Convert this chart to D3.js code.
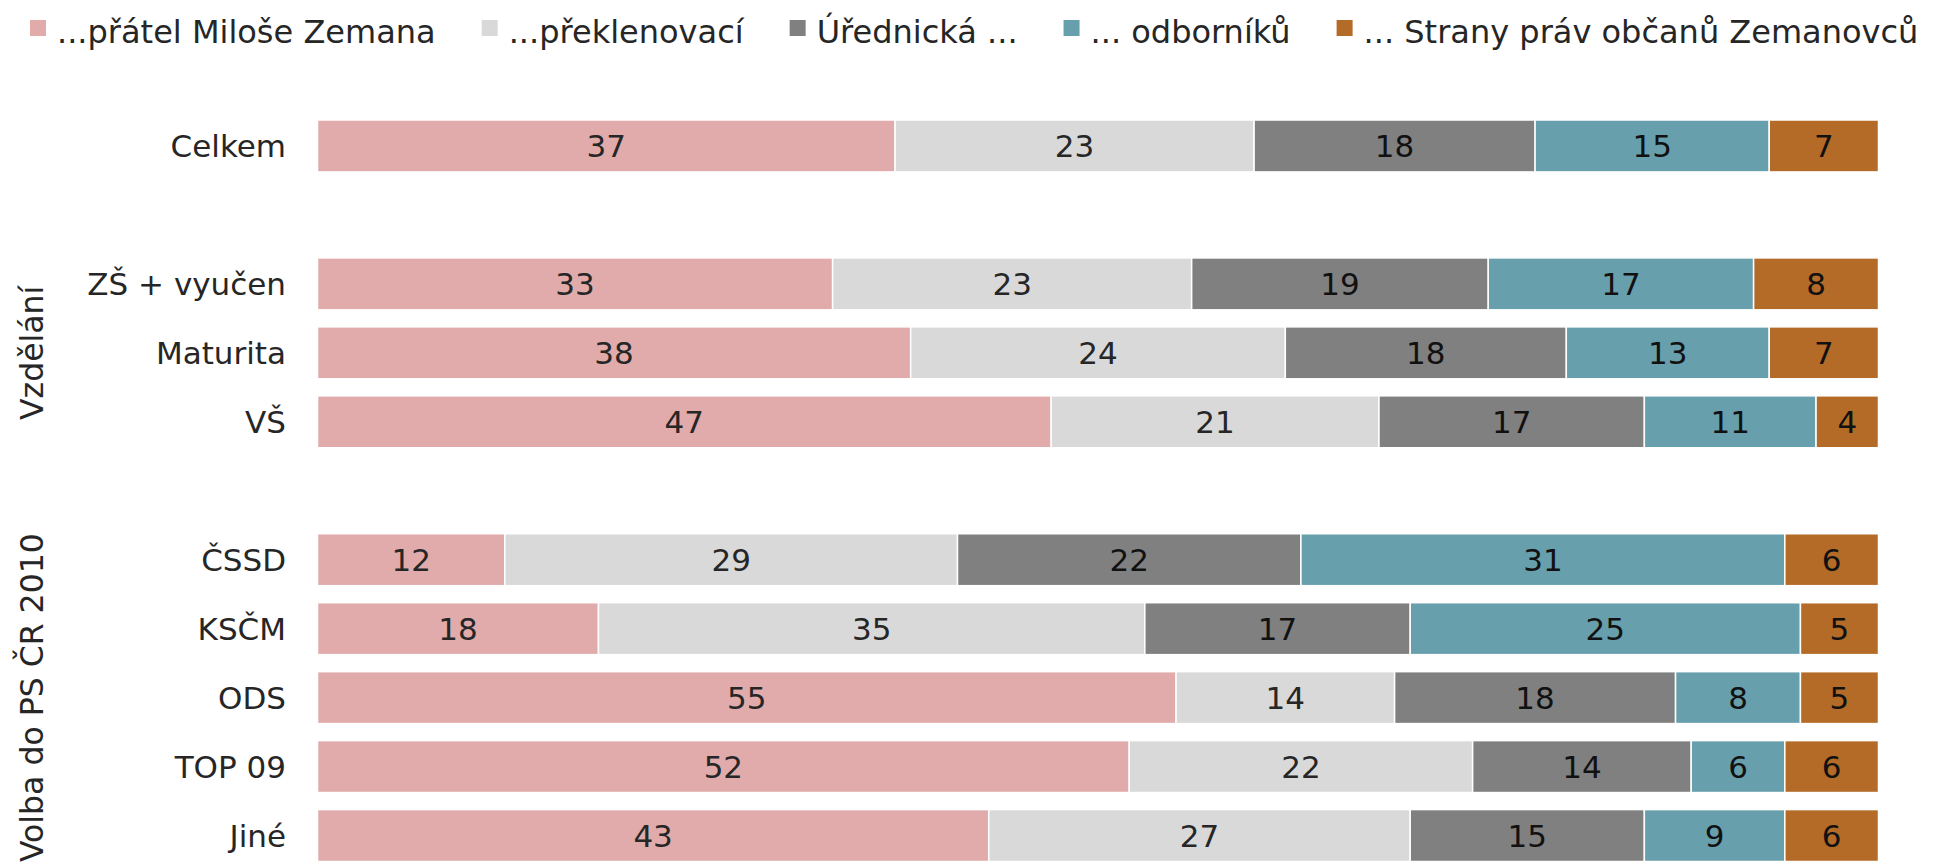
<!DOCTYPE html>
<html>
<head>
<meta charset="utf-8">
<script src="https://cdn.jsdelivr.net/npm/d3@7"></script>
<style>
  body { margin: 0; background: #fff; }
  text { font-family: "DejaVu Sans", Verdana, sans-serif; }
</style>
</head>
<body>
<svg width="1937" height="867"></svg>
<script>
      // series (answer options) and their colours
      const series = ["...přátel Miloše Zemana", "...překlenovací", "Úřednická ...", "... odborníků", "... Strany práv občanů Zemanovců"];
      const colors = ["#e1abab", "#d9d9d9", "#808080", "#689fad", "#b46b27"];
      const labelColors = ["#262626", "#262626", "#111", "#111", "#111"];

      // rows, blank slots separate the groups
      const rows = ["Celkem", "_gap1", "ZŠ + vyučen", "Maturita", "VŠ", "_gap2", "ČSSD", "KSČM", "ODS", "TOP 09", "Jiné"];

      // values in percent, one array per series, in order of rows (without gaps)
      const categories = ["Celkem", "ZŠ + vyučen", "Maturita", "VŠ", "ČSSD", "KSČM", "ODS", "TOP 09", "Jiné"];
      const pratel     = [37, 33, 38, 47, 12, 18, 55, 52, 43];
      const preklen    = [23, 23, 24, 21, 29, 35, 14, 22, 27];
      const urednicka  = [18, 19, 18, 17, 22, 17, 18, 14, 15];
      const odborniku  = [15, 17, 13, 11, 31, 25,  8,  6,  9];
      const sporz      = [ 7,  8,  7,  4,  6,  5,  5,  6,  6];

      // groups drawn as rotated titles
      const groups = [
        {name: "Vzdělání", first: "ZŠ + vyučen", last: "VŠ"},
        {name: "Volba do PS ČR 2010", first: "ČSSD", last: "Jiné"}
      ];

      const svg = d3.select("svg");

      // build a table for the stack
      const table = categories.map((c, i) => {
        const row = {cat: c};
        [pratel, preklen, urednicka, odborniku, sporz].forEach((arr, j) => row[series[j]] = arr[i]);
        return row;
      });

      const stack = d3.stack().keys(series)(table);

      const x = d3.scaleLinear()
          .domain([0, 100])
          .range([317.5, 1878.5]);

      const y = d3.scaleBand()
          .domain(rows)
          .range([120, 861.5])
          .paddingInner(0.247)
          .paddingOuter(0);

      // bars
      const layer = svg.append("g")
          .selectAll("g")
          .data(stack)
          .enter()
          .append("g")
          .attr("fill", (d, i) => colors[i]);

      layer.selectAll("rect")
          .data(d => d.map(s => ({s: s, key: d.key})))
          .enter()
          .append("rect")
          .attr("x", d => x(d.s[0]))
          .attr("width", d => x(d.s[1]) - x(d.s[0]))
          .attr("y", d => y(d.s.data.cat))
          .attr("height", y.bandwidth())
          .style("stroke", "#fff")
          .style("stroke-width", 1.5);

      // value labels in the middle of each segment
      layer.selectAll("text")
          .data((d, i) => d.map(s => ({s: s, i: i})))
          .enter()
          .append("text")
          .attr("x", d => (x(d.s[0]) + x(d.s[1])) / 2)
          .attr("y", d => y(d.s.data.cat) + y.bandwidth() / 2)
          .attr("dy", "0.36em")
          .attr("text-anchor", "middle")
          .style("font-size", "31px")
          .style("fill", d => labelColors[d.i])
          .text(d => d.s[1] - d.s[0]);

      // category labels
      svg.append("g")
          .selectAll("text")
          .data(categories)
          .enter()
          .append("text")
          .attr("x", 286)
          .attr("y", d => y(d) + y.bandwidth() / 2)
          .attr("dy", "0.36em")
          .attr("text-anchor", "end")
          .style("font-size", "31px")
          .style("fill", "#262626")
          .text(d => d);

      // rotated group titles
      svg.append("g")
          .selectAll("text")
          .data(groups)
          .enter()
          .append("text")
          .attr("transform", d => {
            const cy = (y(d.first) + y(d.last) + y.bandwidth()) / 2;
            return "translate(43," + cy + ") rotate(-90)";
          })
          .attr("text-anchor", "middle")
          .style("font-size", "31.5px")
          .style("fill", "#262626")
          .text(d => d.name);

      // legend on top, items laid out one after another
      const legend = svg.append("g").attr("class", "legend");
      let lx = 30;
      series.forEach((s, i) => {
        legend.append("rect")
            .attr("x", lx)
            .attr("y", 20)
            .attr("width", 16)
            .attr("height", 16)
            .attr("fill", colors[i]);
        const t = legend.append("text")
            .attr("x", lx + 27)
            .attr("y", 43)
            .style("font-size", "32px")
            .style("fill", "#262626")
            .text(s);
        lx += 27 + t.node().getComputedTextLength() + 46;
      });
</script>
</body>
</html>
